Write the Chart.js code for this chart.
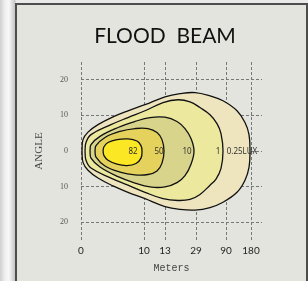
<!DOCTYPE html>
<html>
<head>
<meta charset="utf-8">
<script src="https://cdn.jsdelivr.net/npm/chart.js@4"></script>
<style>
  html, body { margin: 0; padding: 0; }
  body {
    width: 308px; height: 281px; overflow: hidden; position: relative;
    background: linear-gradient(to right, #cfcfcf 0px, #efefef 5px, #f8f8f8 9px, #c4c4c4 15px, #e9e9e9 16px);
  }
  #panel {
    position: absolute; left: 15px; top: 3px; width: 289px; height: 290px;
    background: #e4e4df; border: 2px solid #4d4d4d;
  }
  #wrap { position: absolute; left: 0; top: 0; width: 308px; height: 281px; }
</style>
</head>
<body>
<div id="panel"></div>
<div id="wrap"><canvas id="beam"></canvas></div>
<script>
// x is the position along the (non-linear) meters axis, y is the angle in degrees
var xTickPos = [0, 63, 84, 115, 145, 170];
var xTickLabels = ['0', '10', '13', '29', '90', '180'];
var yTicks = [-20, -10, 0, 10, 20];

var luxLevels = ['82', '50', '10', '1', '0.25LUX'];
var luxLabelX = [52, 78, 106, 137, 161];

var lux82X = [22, 23, 27, 36, 47, 56, 60, 61, 60, 55, 46, 36, 27, 23, 22];
var lux82Y = [0, 1.2, 2.4, 3.2, 3.4, 2.8, 1.5, 0, -2, -3.5, -4.1, -3.7, -2.6, -1.3, 0];

var lux50X = [14, 15, 24, 39, 54, 67, 76, 81, 83, 81, 76, 67, 54, 39, 24, 15, 14];
var lux50Y = [0, 1.5, 3.8, 5.5, 6.3, 6.3, 5.2, 3.2, 0, -3.4, -5.6, -6.6, -6.7, -5.9, -4.2, -1.7, 0];

var lux10X = [9, 10, 19, 37, 54, 69, 84, 96, 104, 110, 113, 110, 104, 96, 84, 69, 54, 37, 19, 10, 9];
var lux10Y = [0, 1.8, 4.1, 6.6, 8.3, 9.4, 9.5, 8.3, 6.3, 3.5, 0, -3.7, -6.9, -8.9, -10.1, -10.1, -9, -7.2, -4.5, -2, 0];

var lux1X = [4, 5, 10, 30, 47, 64, 82, 97, 109, 119, 129, 136, 140, 142, 140, 135, 129, 119, 109, 97, 82, 64, 47, 30, 10, 5, 4];
var lux1Y = [0, 2.4, 4.6, 7.4, 9.4, 11.3, 13.6, 14.4, 13.8, 12.2, 10.2, 7.7, 4.9, 0, -4.9, -7.9, -9.6, -12.2, -13.6, -13.9, -13.4, -11.6, -9.6, -7.6, -4.8, -2.6, 0];

var lux025X = [1, 2, 7, 17, 32, 47, 64, 84, 99, 114, 129, 142, 156, 164, 168, 169, 168, 164, 156, 142, 129, 114, 99, 84, 64, 47, 32, 17, 7, 2, 1];
var lux025Y = [0, 3.2, 5.3, 7.4, 9.6, 11.3, 13, 15.2, 16.1, 16.4, 15.5, 14.1, 11.3, 8, 4.6, 0, -4.6, -8.2, -11.6, -14.4, -15.9, -16.6, -16.4, -15.6, -13.4, -11.6, -9.8, -7.6, -5.4, -3.2, 0];

var contourColors = ['#fbe724', '#e5d25c', '#d9d48b', '#ece89e', '#eee5bf'];

function toPoints(xs, ys) {
    return xs.map(function (x, i) { return { x: x, y: ys[i] }; });
}

var contours = [
    toPoints(lux82X, lux82Y),
    toPoints(lux50X, lux50Y),
    toPoints(lux10X, lux10Y),
    toPoints(lux1X, lux1Y),
    toPoints(lux025X, lux025Y)
];

// dataset 0 is drawn on top, so inner contours come first
var datasets = contours.map(function (pts, i) {
    return {
        label: luxLevels[i],
        data: pts,
        showLine: true,
        fill: 'shape',
        backgroundColor: contourColors[i],
        borderColor: '#111',
        borderWidth: 1.3,
        tension: 0.4,
        pointRadius: 0
    };
});

// title and the lux numbers written along the axis
var textPlugin = {
    id: 'beamText',
    afterDraw: function (chart) {
        var ctx = chart.ctx;
        var xs = chart.scales.x, ys = chart.scales.y;
        ctx.save();
        ctx.fillStyle = '#111';
        ctx.font = '21px Lato';
        ctx.textAlign = 'center';
        ctx.textBaseline = 'middle';
        ctx.fillText('FLOOD  BEAM', 165, 36);
        ctx.fillStyle = '#333';
        ctx.font = '8px "Noto Sans"';
        luxLevels.forEach(function (t, i) {
            ctx.fillText(t, xs.getPixelForValue(luxLabelX[i]), ys.getPixelForValue(0) + 1);
        });
        ctx.restore();
    }
};

new Chart(document.getElementById('beam'), {
    type: 'scatter',
    data: { datasets: datasets },
    plugins: [textPlugin],
    options: {
        responsive: true,
        maintainAspectRatio: false,
        animation: false,
        layout: { padding: { left: 0, top: 62, right: 46, bottom: 0 } },
        plugins: { legend: { display: false }, tooltip: { enabled: false } },
        scales: {
            x: {
                type: 'linear',
                min: 0,
                max: 181,
                z: 1,
                afterBuildTicks: function (s) { s.ticks = xTickPos.map(function (v) { return { value: v }; }); },
                afterFit: function (s) { s.height = 41; },
                ticks: {
                    padding: 5,
                    color: '#222',
                    font: { family: 'Lato', size: 10 },
                    callback: function (v) { return xTickLabels[xTickPos.indexOf(v)]; }
                },
                grid: { color: '#777', lineWidth: 1, drawTicks: false },
                border: { display: false, dash: [3, 2] },
                title: {
                    display: true, text: 'Meters', color: '#444',
                    font: { family: 'Liberation Mono', size: 10 },
                    padding: { top: 0, bottom: 7 }
                }
            },
            y: {
                type: 'linear',
                min: -25,
                max: 25,
                z: 1,
                afterBuildTicks: function (s) { s.ticks = yTicks.map(function (v) { return { value: v }; }); },
                afterFit: function (s) { s.width = 81; },
                ticks: {
                    padding: 13,
                    color: '#555',
                    font: { family: 'Liberation Serif', size: 8 },
                    callback: function (v) { return String(Math.abs(v)); }
                },
                grid: { color: '#777', lineWidth: 1, drawTicks: false },
                border: { display: false, dash: [3, 2] },
                title: {
                    display: true, text: 'ANGLE', color: '#444',
                    font: { family: 'Liberation Serif', size: 11 },
                    padding: { top: 33, bottom: 0 }
                }
            }
        }
    }
});
</script>
</body>
</html>
